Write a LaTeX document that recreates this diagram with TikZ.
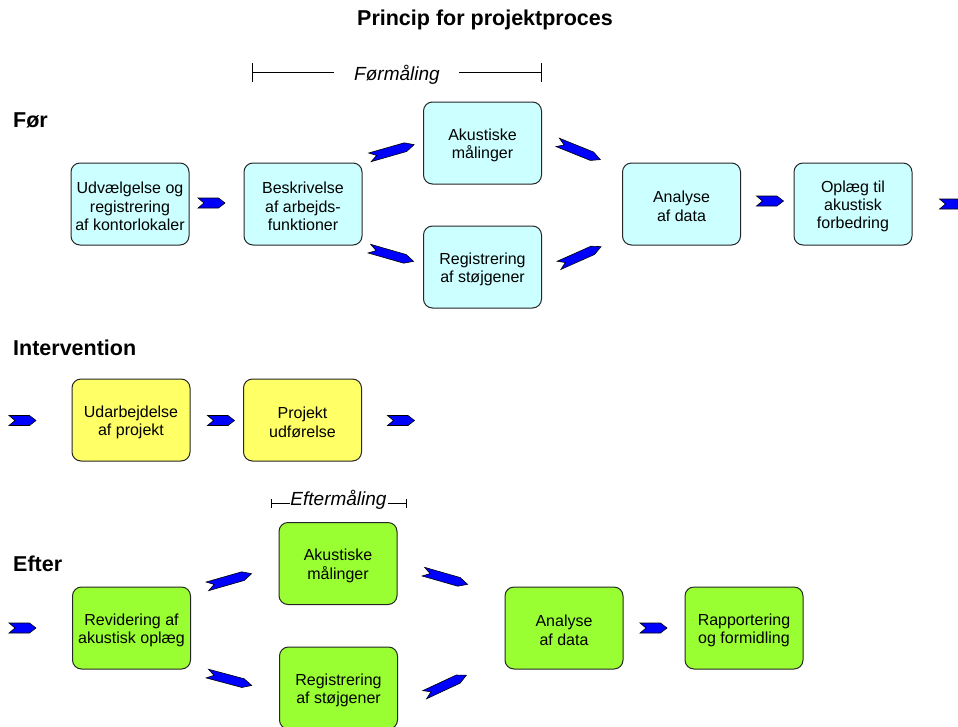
\documentclass[tikz,border=0pt]{standalone}
\usepackage{fontspec}
\setmainfont{Liberation Sans}
\definecolor{boxcyan}{HTML}{CCFFFF}
\definecolor{boxyellow}{HTML}{FFFF66}
\definecolor{boxgreen}{HTML}{99FF33}
\definecolor{arrowblue}{HTML}{0000FF}
\newcommand{\tsp}{\rule{0pt}{16.5pt}}
\begin{document}
\begin{tikzpicture}[x=1pt,y=-1pt,
  box/.style={draw=black!85, line width=1pt, rounded corners=9pt,
    minimum width=118pt, minimum height=82pt, inner sep=0pt, align=center,
    font=\fontsize{16}{18.4}\selectfont},
  cbox/.style={box, fill=boxcyan},
  ybox/.style={box, fill=boxyellow},
  gbox/.style={box, fill=boxgreen},
  sectlbl/.style={font=\fontsize{21.5}{25}\selectfont\bfseries, inner sep=0pt},
  measlbl/.style={font=\fontsize{19}{22}\selectfont\itshape, inner sep=0pt},
  brk/.style={draw=black, line width=1pt},
  chev/.pic={\draw[draw=black, fill=arrowblue, line width=0.6pt, line join=miter]
    (-13.5,-5) -- (7,-5) -- (13.5,0) -- (7,5) -- (-13.5,5) -- (-7.5,0) -- cycle;},
  dchev/.pic={\draw[draw=black, fill=arrowblue, line width=0.6pt, line join=miter]
    (-23,-4.5) -- (14,-4.5) -- (23,0) -- (14,4.5) -- (-23,4.5) -- (-16,0) -- cycle;}
]
\clip (0,0) rectangle (958,726);
\fill[white] (0,0) rectangle (958,726);

% titles
\node[sectlbl, anchor=base] (title) at (485,25.5) {Princip for projektproces};
\node[sectlbl, anchor=base west] (lfor) at (13,127) {Før};
\node[sectlbl, anchor=base west] (lint) at (13,355) {Intervention};
\node[sectlbl, anchor=base west] (left) at (13,571) {Efter};

% Formaaling bracket
\node[measlbl, anchor=base] (formal) at (397,80.5) {Førmåling};
\coordinate (fl) at (252.5,72.5);
\coordinate (flm) at (334,72.5);
\coordinate (frm) at (459,72.5);
\coordinate (fr) at (541,72.5);
\draw[brk] (fl) -- (flm);
\draw[brk] (frm) -- (fr);
\draw[brk] ([yshift=-9.5pt]fl) -- ([yshift=9.5pt]fl);
\draw[brk] ([yshift=-9.5pt]fr) -- ([yshift=9.5pt]fr);

% Eftermaaling bracket
\node[measlbl, anchor=base] (eftmal) at (338.5,505) {Eftermåling};
\coordinate (el) at (271,503);
\coordinate (elm) at (289.5,503);
\coordinate (erm) at (387.5,503);
\coordinate (er) at (406,503);
\draw[brk] (el) -- (elm);
\draw[brk] (erm) -- (er);
\draw[brk] ([yshift=-4.5pt]el) -- ([yshift=4.5pt]el);
\draw[brk] ([yshift=-4.5pt]er) -- ([yshift=4.5pt]er);

% Foer row
\node[cbox] (udv) at (130,204) {\tsp Udvælgelse og\\registrering\\af kontorlokaler};
\node[cbox] (besk) at (303,204) {\tsp Beskrivelse\\af arbejds-\\funktioner};
\node[cbox] (ak1) at (482.5,143) {\tsp Akustiske\\målinger};
\node[cbox] (reg1) at (482.5,267) {\tsp Registrering\\af støjgener};
\node[cbox] (ana1) at (681.5,204) {\tsp Analyse\\af data};
\node[cbox] (opl) at (853,204) {\tsp Oplæg til\\akustisk\\forbedring};

\pic at (211.5,203) {chev};
\pic at (770,201) {chev};
\pic at (953,204) {chev};
\pic[rotate=16] at (392,151) {dchev};
\pic[rotate=-16] at (391.5,255) {dchev};
\pic[rotate=-22] at (579,151) {dchev};
\pic[rotate=24] at (580,256) {dchev};

% Intervention row
\node[ybox] (uda) at (131,420) {\tsp Udarbejdelse\\af projekt};
\node[ybox] (proj) at (302.5,420) {\tsp Projekt\\udførelse};
\pic at (22.5,420.5) {chev};
\pic at (221,420.5) {chev};
\pic at (401,420.5) {chev};

% Efter row
\node[gbox] (rev) at (131.5,628) {\tsp Revidering af\\akustisk oplæg};
\node[gbox] (ak2) at (338,563.5) {\tsp Akustiske\\målinger};
\node[gbox] (reg2) at (338.5,688) {\tsp Registrering\\af støjgener};
\node[gbox] (ana2) at (564,628) {\tsp Analyse\\af data};
\node[gbox] (rap) at (744,628) {\tsp Rapportering\\og formidling};
\pic at (22.5,628) {chev};
\pic at (653.5,628) {chev};
\pic[rotate=16] at (229.5,580) {dchev};
\pic[rotate=-15] at (229.5,679.5) {dchev};
\pic[rotate=-16] at (445.5,578) {dchev};
\pic[rotate=25] at (445.5,685) {dchev};
\end{tikzpicture}
\end{document}
